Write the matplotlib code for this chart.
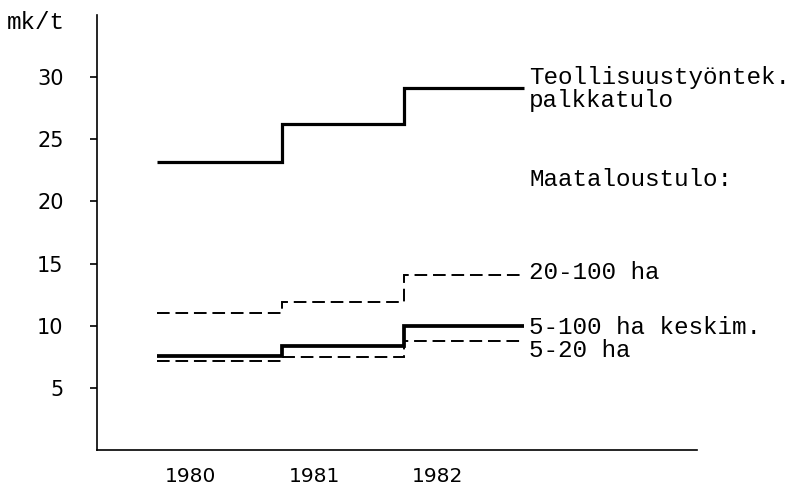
import numpy as np
import matplotlib
matplotlib.use('Agg')
from matplotlib import pyplot as pp

################################################################################
# Data (mk/t)
years = [1980, 1981, 1982]
edges = [1979.73, 1980.74, 1981.73, 1982.70]   # step edges for each year
teoll = [23.2, 26.2, 29.1]        # Teollisuustyontek. palkkatulo
ha20_100 = [11.0, 11.9, 14.1]     # 20-100 ha
ha5_100 = [7.6, 8.4, 10.0]        # 5-100 ha keskim.
ha5_20 = [7.2, 7.5, 8.8]          # 5-20 ha
yticks = [5, 10, 15, 20, 25, 30]

mono = 'Liberation Mono'
sans = 'DejaVu Sans'
dash = (0, (6.5, 3))

################################################################################
fig = pp.figure(figsize=(8.11, 4.88), dpi=100)
ax = fig.add_axes([0.1196, 0.0775, 0.7398, 0.8918])

ax.stairs(teoll, edges, color='black', lw=2.3, baseline=None)
ax.stairs(ha5_100, edges, color='black', lw=2.7, baseline=None)
ax.stairs(ha20_100, edges, color='black', lw=1.4, baseline=None,
	linestyle=dash)
ax.stairs(ha5_20, edges, color='black', lw=1.4, baseline=None,
	linestyle=dash)

ax.set_xlim(1979.24, 1984.10)
ax.set_ylim(0, 35)
ax.set_yticks(yticks)
ax.set_xticks(years)
ax.set_yticklabels([str(v) for v in yticks], fontname=sans, fontsize=15)
ax.set_xticklabels([str(v) for v in years], fontname=sans, fontsize=14.5)
ax.tick_params(axis='y', direction='out', length=5, width=1.2, pad=19)
ax.tick_params(axis='x', length=0, pad=12)

for s in ['top', 'right']:
	ax.spines[s].set_visible(False)
for s in ['left', 'bottom']:
	ax.spines[s].set_linewidth(1.2)

# Labels on the right (typewriter text)
tx = 1982.74
ax.text(tx, teoll[-1] + 0.9, 'Teollisuustyöntek.', fontname=mono,
	fontsize=17.5, va='center', ha='left')
ax.text(tx, teoll[-1] - 1.0, 'palkkatulo', fontname=mono,
	fontsize=17.5, va='center', ha='left')
ax.text(tx, 21.8, 'Maataloustulo:', fontname=mono,
	fontsize=17.5, va='center', ha='left')
ax.text(tx, ha20_100[-1] + 0.2, '20-100 ha', fontname=mono,
	fontsize=17.5, va='center', ha='left')
ax.text(tx, ha5_100[-1] - 0.1, '5-100 ha keskim.', fontname=mono,
	fontsize=17.5, va='center', ha='left')
ax.text(tx, ha5_20[-1] - 0.8, '5-20 ha', fontname=mono,
	fontsize=17.5, va='center', ha='left')

fig.text(0.009, 0.953, 'mk/t', fontname=mono, fontsize=17.5,
	va='center', ha='left')

fig.savefig('out.png', dpi=100)
